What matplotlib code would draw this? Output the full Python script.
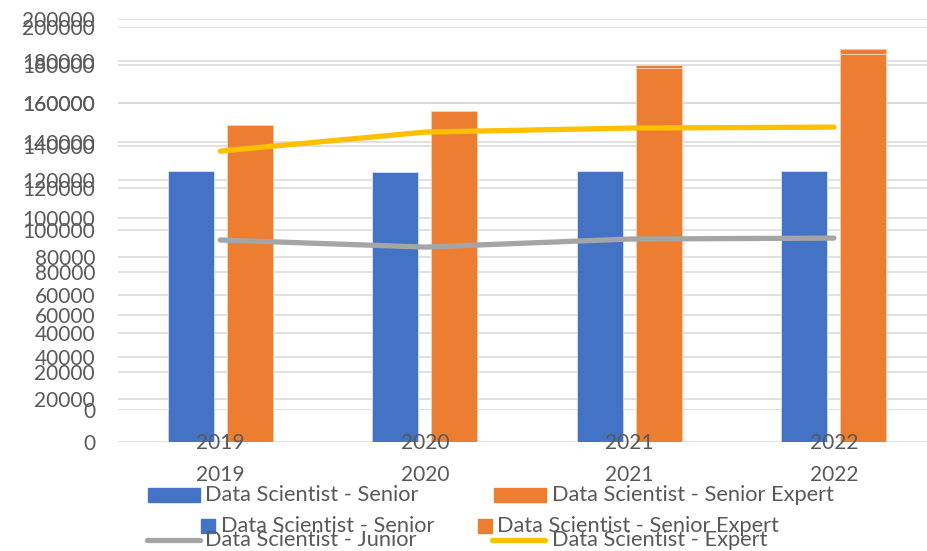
import matplotlib.pyplot as plt
from matplotlib.patches import Rectangle
from matplotlib.lines import Line2D
import numpy as np

# data
years = ['2019', '2020', '2021', '2022']
names = ['Data Scientist - Senior', 'Data Scientist - Senior Expert',
         'Data Scientist - Junior', 'Data Scientist - Expert']
senior = [124800, 124400, 124800, 124800]
senior_expert = [148700, 156000, 178300, 185500]
junior = [88700, 85000, 89200, 89700]
expert = [135100, 145000, 147100, 147600]
yticks = list(range(0, 200001, 20000))

blue, orange, grey, yellow = '#4472C4', '#ED7D31', '#A5A5A5', '#FFC000'
txt = '#595959'
gridc = '#D9D9D9'

plt.rcParams['font.family'] = ['Lato', 'DejaVu Sans']
plt.rcParams['font.size'] = 15

W, H = 927, 551
fig = plt.figure(figsize=(W / 100, H / 100), dpi=100)


def fx(x):
    return x / W


def fy(y):
    return (H - y) / H


def setup(ax):
    ax.set_facecolor('none')
    ax.set_xlim(-0.5, 3.455)
    ax.set_ylim(0, 200000)
    ax.set_yticks(yticks)
    ax.set_yticklabels([str(t) for t in yticks], color=txt)
    ax.set_xticks(np.arange(len(years)))
    ax.set_xticklabels(years, color=txt)
    ax.tick_params(length=0, pad=16.5)
    for s in ax.spines.values():
        s.set_visible(False)
    ax.set_axisbelow(True)
    ax.yaxis.grid(True, color=gridc, lw=1.1)


x = np.arange(len(years))
w = 0.225
off = 0.144

# first copy: bars only, taller scale
axA = fig.add_axes([fx(118), fy(441.7), fx(927 - 118), (441.7 - 18.7) / H])
setup(axA)
axA.bar(x - off, senior, w, color=blue, edgecolor='#c9d5ee', lw=0.6)
axA.bar(x + off, senior_expert, w, color=orange, edgecolor='#f6c9ab', lw=0.6)

# second copy: bars + lines, shorter scale
axB = fig.add_axes([fx(118), fy(410), fx(927 - 118), (410 - 26.7) / H])
setup(axB)
axB.bar(x - off, senior, w, color=blue, edgecolor='#d3def3', lw=0.7)
axB.bar(x + off, senior_expert, w, color=orange, edgecolor='#f8cfb3', lw=0.7)
axB.plot(x, junior, color=grey, lw=3.8, solid_capstyle='round', zorder=3)
axB.plot(x, expert, color=yellow, lw=3.8, solid_capstyle='round', zorder=3)

lfs = 15.7

# legend of first copy
fig.add_artist(Rectangle((fx(148), fy(502)), fx(52), 14 / H, color=blue, transform=fig.transFigure))
fig.text(fx(205), fy(495), names[0], color=txt, va='center', ha='left', fontsize=lfs)
fig.add_artist(Rectangle((fx(494), fy(502)), fx(52), 14 / H, color=orange, transform=fig.transFigure))
fig.text(fx(552), fy(495), names[1], color=txt, va='center', ha='left', fontsize=lfs)

# legend of second copy (rows overlap)
fig.add_artist(Rectangle((fx(201), fy(533)), fx(14), 14 / H, color=blue, transform=fig.transFigure))
fig.text(fx(221), fy(526), names[0], color=txt, va='center', ha='left', fontsize=lfs)
fig.add_artist(Rectangle((fx(478), fy(533)), fx(14), 14 / H, color=orange, transform=fig.transFigure))
fig.text(fx(497), fy(526), names[1], color=txt, va='center', ha='left', fontsize=lfs)
fig.add_artist(Line2D([fx(147), fx(200)], [fy(539.5), fy(539.5)], color=grey, lw=3.8,
                      solid_capstyle='round', transform=fig.transFigure))
fig.text(fx(205), fy(540), names[2], color=txt, va='center', ha='left', fontsize=lfs)
fig.add_artist(Line2D([fx(492), fx(545)], [fy(539.5), fy(539.5)], color=yellow, lw=3.8,
                      solid_capstyle='round', transform=fig.transFigure))
fig.text(fx(552), fy(540), names[3], color=txt, va='center', ha='left', fontsize=lfs)

fig.savefig('out.png', dpi=100)
